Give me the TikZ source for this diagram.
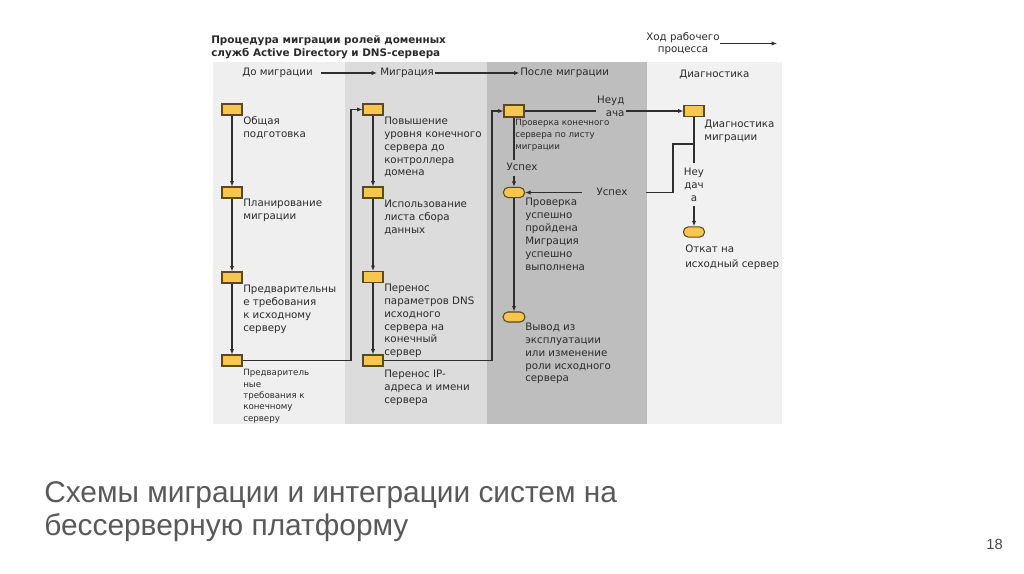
\documentclass[tikz,border=0pt]{standalone}
\usepackage{fontspec}
\setmainfont{DejaVu Sans}
\newfontfamily\capfont{Liberation Sans}
\usetikzlibrary{arrows.meta}
\definecolor{bgA}{HTML}{EFEFEF}
\definecolor{bgB}{HTML}{DCDCDC}
\definecolor{bgC}{HTML}{BEBEBE}
\definecolor{bgD}{HTML}{F1F1F1}
\definecolor{boxfill}{HTML}{F7C64F}
\definecolor{boxline}{HTML}{5B4A1F}
\definecolor{linec}{HTML}{2E2E2E}
\definecolor{txtc}{HTML}{2B2B2B}
\definecolor{capc}{HTML}{595959}
\begin{document}
\begin{tikzpicture}[x=0.75pt,y=-0.75pt,
  stepbox/.style={draw=boxline,fill=boxfill,line width=0.8pt,minimum width=15pt,minimum height=8.25pt,inner sep=0pt},
  ovalbox/.style={draw=boxline,fill=boxfill,line width=0.8pt,minimum width=16pt,minimum height=7.8pt,inner sep=0pt,rounded corners=3.9pt},
  txt/.style={anchor=north west,inner sep=0pt,align=left,text=txtc,font=\fontsize{7.7}{9.6}\selectfont},
  smalltxt/.style={anchor=north west,inner sep=0pt,align=left,text=txtc,font=\fontsize{6.5}{8.6}\selectfont},
  lbl/.style={inner sep=0pt,text=txtc,font=\fontsize{7.7}{9.6}\selectfont},
  conn/.style={draw=linec,line width=0.85pt},
  arr/.style={conn,-{Latex[length=4pt,width=3.2pt]}}
]
\fill[white] (0,0) rectangle (1024,574);
\useasboundingbox (0,0) rectangle (1024,574);
% panels
\fill[bgA] (213,62) rectangle (345,424);
\fill[bgB] (345,62) rectangle (487,424);
\fill[bgC] (487,62) rectangle (647,424);
\fill[bgD] (647,62) rectangle (782,424);

% title
\node[anchor=north west,inner sep=0pt,align=left,text=txtc,font=\bfseries\fontsize{7.8}{9.75}\selectfont] (title) at (211,35.5)
  {Процедура миграции ролей доменных\\служб Active Directory и DNS-сервера};

% headers
\node[lbl,anchor=west] (h1) at (242,73) {До миграции};
\node[lbl,anchor=west] (h2) at (380,73) {Миграция};
\node[lbl,anchor=west] (h3) at (520,73) {После миграции};
\node[lbl,anchor=west] (h4) at (679,75) {Диагностика};
\node[lbl,align=center] (hw) at (683,43.5) {Ход рабочего\\процесса};
\coordinate (hwe) at (777,43.5);
\draw[arr,shorten <=6pt,shorten >=2.2pt] (h1.east) -- (h2.west);
\draw[arr,shorten <=0.8pt,shorten >=0.5pt] (h2.east) -- (h3.west);
\draw[arr] (hw.east) -- (hwe);

% column 1
\node[stepbox] (b11) at (232,109.5) {};
\node[stepbox] (b12) at (232,192.5) {};
\node[stepbox] (b13) at (232,277.5) {};
\node[stepbox] (b14) at (232,360.5) {};
\node[txt] (t11) at (243,116) {Общая\\подготовка};
\node[txt] (t12) at (243,199) {Планирование\\миграции};
\node[txt] (t13) at (243,285) {Предварительны\\е требования\\к исходному\\серверу};
\node[smalltxt] (t14) at (243,369) {Предваритель\\ные\\требования к\\конечному\\серверу};
\draw[arr] (b11) -- (b12);
\draw[arr] (b12) -- (b13);
\draw[arr] (b13) -- (b14);

% column 2
\node[stepbox] (b21) at (373,109.5) {};
\node[stepbox] (b22) at (373,192.5) {};
\node[stepbox] (b23) at (373,277) {};
\node[stepbox] (b24) at (373,360.5) {};
\node[txt] (t21) at (384,117) {Повышение\\уровня конечного\\сервера до\\контроллера\\домена};
\node[txt] (t22) at (384,200) {Использование\\листа сбора\\данных};
\node[txt] (t23) at (384,284) {Перенос\\параметров DNS\\исходного\\сервера на\\конечный\\сервер};
\node[txt] (t24) at (384,370) {Перенос IP-\\адреса и имени\\сервера};
\draw[arr] (b21) -- (b22);
\draw[arr] (b22) -- (b23);
\draw[arr] (b23) -- (b24);
\coordinate (k1) at (351,109.5);
\draw[arr] (b14.east) -| (k1) |- (b21.west);

% column 3
\node[stepbox,minimum height=9pt] (b31) at (514,111) {};
\node[ovalbox] (o32) at (514,192.5) {};
\node[ovalbox,minimum width=16.5pt,minimum height=7.5pt,rounded corners=3.75pt] (o33) at (514,317) {};
\node[smalltxt,font=\fontsize{6.5}{9}\selectfont] (t31) at (515,119) {Проверка конечного\\сервера по листу\\миграции};
\node[txt,font=\fontsize{7.7}{9.75}\selectfont] (t32) at (525,198) {Проверка\\успешно\\пройдена\\Миграция\\успешно\\выполнена};
\node[txt] (t33) at (525,323) {Вывод из\\эксплуатации\\или изменение\\роли исходного\\сервера};
\coordinate (k2) at (492,111);
\draw[arr] (b24.east) -| (k2) |- (b31.west);
\node[lbl] (lu1) at (522,167) {Успех};
\coordinate (u1a) at (514,160);
\coordinate (u1b) at (514,176);
\draw[conn] (b31.south) -- (u1a);
\draw[arr] (u1b) -- (o32.north);
\draw[arr] (o32) -- (o33);

% column 4
\node[stepbox] (b41) at (694,111) {};
\node[ovalbox] (o42) at (694,232) {};
\node[txt] (t41) at (704,120) {Диагностика\\миграции};
\node[txt,font=\fontsize{7.7}{10.8}\selectfont] (t42) at (685,245) {Откат на\\исходный сервер};
\node[lbl,anchor=east,align=right,inner xsep=1pt] (ln1) at (626,106) {Неуд\\ача};
\draw[conn] (b31.east) -- (ln1.west |- b31.east);
\draw[arr] (ln1.east |- b41.west) -- (b41.west);
\node[lbl,align=center] (ln2) at (694,185) {Неу\\дач\\а};
\coordinate (n2a) at (694,163);
\coordinate (n2b) at (694,206);
\draw[conn] (b41.south) -- (n2a);
\draw[arr] (n2b) -- (o42.north);

% success branch from diagnostics
\node[lbl] (lu2) at (612,192) {Успех};
\coordinate (j1) at (694,144);
\coordinate (j2) at (673,192.5);
\coordinate (u2a) at (646,192.5);
\coordinate (u2b) at (582,192.5);
\draw[conn] (j1) -| (j2) -- (u2a);
\draw[arr] (u2b) -- (o32.east);

% caption
\node[anchor=north west,inner sep=0pt,align=left,text=capc,font=\capfont\fontsize{22.4}{24.75}\selectfont] (cap) at (44,481)
  {Схемы миграции и интеграции систем на\\бессерверную платформу};
\node[anchor=east,inner sep=0pt,text=capc!80!black,font=\capfont\fontsize{11}{13}\selectfont] (pg) at (1003,544) {18};
\end{tikzpicture}
\end{document}
